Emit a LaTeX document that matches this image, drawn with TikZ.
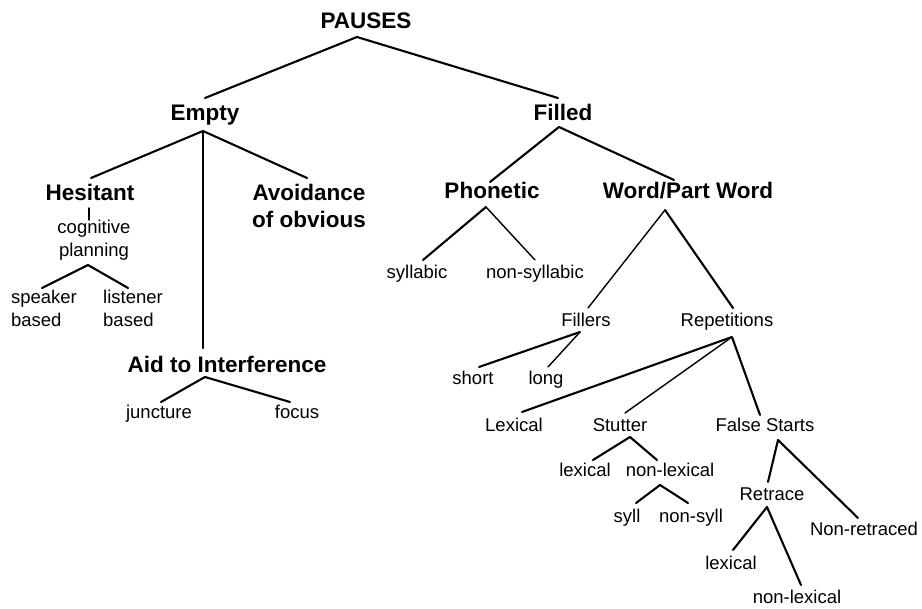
\documentclass[tikz,border=0pt]{standalone}
\usepackage{fontspec}
\setmainfont{Liberation Sans}
\begin{document}
\begin{tikzpicture}[x=1pt,y=-1pt,
  hd/.style={font=\fontsize{22.5}{27}\selectfont\bfseries, inner sep=0pt, anchor=base},
  lf/.style={font=\fontsize{18.5}{23}\selectfont, inner sep=0pt, anchor=base},
  br/.style={line width=2.1pt, line cap=round, line join=round},
  tn/.style={line width=1.4pt, line cap=round}]
\useasboundingbox (0,0) rectangle (922,609);
% nodes (multi-line nodes: base = last line's baseline)
\node[hd] (pauses) at (366,29) {PAUSES};
\node[hd] (empty) at (205,121) {Empty};
\node[hd] (filled) at (563,121) {Filled};
\node[hd] (hes) at (90,201) {Hesitant};
\node[hd, align=center] (avoid) at (309,228) {Avoidance\\of obvious};
\node[lf, align=center] (cog) at (94,257) {cognitive\\planning};
\node[lf, align=left] (spk) at (44,327) {speaker\\based};
\node[lf, align=left] (lis) at (133,327) {listener\\based};
\node[hd] (aid) at (227,373) {Aid to Interference};
\node[lf] (junc) at (159,419) {juncture};
\node[lf] (focus) at (297,419) {focus};
\node[hd] (phon) at (492,199) {Phonetic};
\node[hd] (wpw) at (688,199) {Word/Part Word};
\node[lf] (syl) at (417,279) {syllabic};
\node[lf] (nsyl) at (535,279) {non-syllabic};
\node[lf] (fill) at (586,327) {Fillers};
\node[lf] (rep) at (727,327) {Repetitions};
\node[lf] (short) at (473,385) {short};
\node[lf] (long) at (546,385) {long};
\node[lf] (lex) at (514,432) {Lexical};
\node[lf] (stut) at (620,432) {Stutter};
\node[lf] (fs) at (765,432) {False Starts};
\node[lf] (slex) at (585,477) {lexical};
\node[lf] (snlex) at (670,477) {non-lexical};
\node[lf] (syll) at (627,523) {syll};
\node[lf] (nsyll) at (691,523) {non-syll};
\node[lf] (ret) at (772,501) {Retrace};
\node[lf] (nret) at (864,536) {Non-retraced};
\node[lf] (rlex) at (731,570) {lexical};
\node[lf] (rnlex) at (797,604) {non-lexical};
% join points
\coordinate (pausesB) at (357,37);
\coordinate (emptyT) at (205,98);
\coordinate (filledT) at (558,98);
\coordinate (emptyB) at (203,131);
\coordinate (hesT) at (91,178);
\coordinate (avoidT) at (307,178);
\coordinate (aidT) at (203,348);
\coordinate (hesB) at (89,208);
\coordinate (cogT) at (89,220);
\coordinate (cogB) at (88,265);
\coordinate (spkT) at (42,288);
\coordinate (lisT) at (128,288);
\coordinate (aidB) at (205,377);
\coordinate (juncT) at (161,402);
\coordinate (focusT) at (290,402);
\coordinate (filledB) at (559,127);
\coordinate (phonT) at (490,182);
\coordinate (wpwT) at (674,180);
\coordinate (phonB) at (486,207);
\coordinate (sylT) at (423,260);
\coordinate (nsylT) at (535,260);
\coordinate (wpwB) at (665,210);
\coordinate (fillT) at (588,308);
\coordinate (repT) at (733,308);
\coordinate (fillB) at (580,332);
\coordinate (shortT) at (479,367);
\coordinate (longT) at (548,367);
\coordinate (repB) at (732,337);
\coordinate (lexT) at (522,412);
\coordinate (stutT) at (625,413);
\coordinate (fsT) at (760,415);
\coordinate (stutB) at (630,437);
\coordinate (slexT) at (593,460);
\coordinate (snlexT) at (657,460);
\coordinate (snlexB) at (660,485);
\coordinate (syllT) at (636,503);
\coordinate (nsyllT) at (688,503);
\coordinate (fsB) at (778,440);
\coordinate (retT) at (768,482);
\coordinate (nretT) at (858,518);
\coordinate (retB) at (767,507);
\coordinate (rlexT) at (733,550);
\coordinate (rnlexT) at (801,585);
% connectors
\draw[br] (emptyT) -- (pausesB) -- (filledT);
\draw[br] (hesT) -- (emptyB) -- (avoidT);
\draw[br] (emptyB) -- (aidT);
\draw[tn] (hesB) -- (cogT);
\draw[br] (spkT) -- (cogB) -- (lisT);
\draw[br] (juncT) -- (aidB) -- (focusT);
\draw[br] (phonT) -- (filledB) -- (wpwT);
\draw[br] (sylT) -- (phonB);
\draw[tn] (phonB) -- (nsylT);
\draw[tn] (fillT) -- (wpwB);
\draw[br] (wpwB) -- (repT);
\draw[br] (shortT) -- (fillB);
\draw[tn] (fillB) -- (longT);
\draw[br] (lexT) -- (repB) -- (fsT);
\draw[tn] (repB) -- (stutT);
\draw[br] (slexT) -- (stutB) -- (snlexT);
\draw[br] (syllT) -- (snlexB) -- (nsyllT);
\draw[br] (retT) -- (fsB) -- (nretT);
\draw[br] (rlexT) -- (retB) -- (rnlexT);
\end{tikzpicture}
\end{document}
